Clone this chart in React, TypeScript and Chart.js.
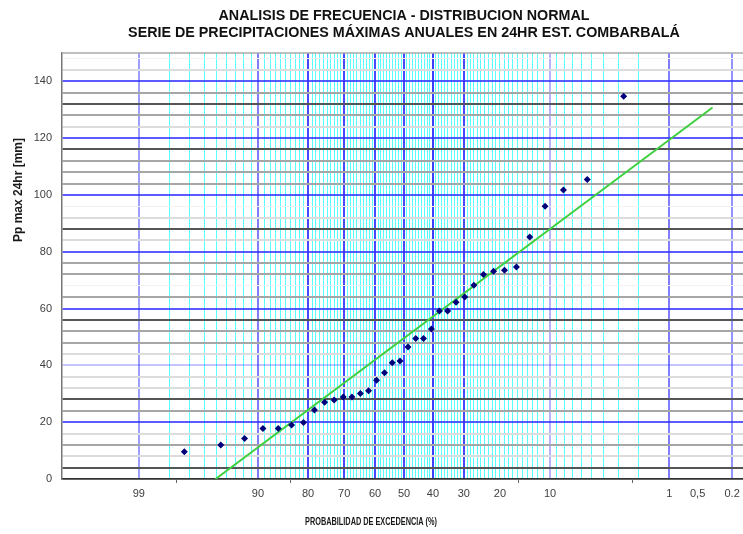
import React, { useEffect, useRef } from 'react';
import { Chart, registerables } from 'chart.js';

Chart.register(...registerables);

// ---------- text ----------
const TITLE_LINES = [
  'ANALISIS DE FRECUENCIA - DISTRIBUCION NORMAL',
  'SERIE DE PRECIPITACIONES MÁXIMAS ANUALES EN 24HR EST. COMBARBALÁ',
];
const Y_TITLE = 'Pp max 24hr [mm]';
const X_TITLE = 'PROBABILIDAD DE EXCEDENCIA (%)';

// ---------- data ----------
// Probabilidad de excedencia (%) de cada dato (posición de graficación)
const EXCEEDANCE_PCT = [
  97.3, 94.6, 91.9, 89.2, 86.5, 83.8, 81.1, 78.4, 75.7, 73.0, 70.3, 67.6,
  64.9, 62.2, 59.5, 56.8, 54.1, 51.4, 48.6, 45.9, 43.2, 40.5, 37.8, 35.1,
  32.4, 29.7, 27.0, 24.3, 21.6, 18.9, 16.2, 13.5, 10.8, 8.1, 5.4, 2.7,
];
// Pp máxima anual en 24 hr (mm)
const PRECIP_MM = [
  9.6, 12.0, 14.3, 17.8, 17.8, 19.0, 19.9, 24.3, 27.0, 27.8, 28.9, 28.9,
  30.1, 31.1, 34.8, 37.4, 40.9, 41.5, 46.5, 49.5, 49.5, 52.8, 59.1, 59.1,
  62.2, 64.1, 68.2, 72.0, 73.1, 73.5, 74.6, 85.2, 96.0, 101.7, 105.4, 134.7,
];
// Recta de ajuste normal (extremos)
const FIT_PCT = [95.08, 0.34];
const FIT_MM = [0, 130.8];

// ---------- axes ----------
const X_LABEL_PCT = [99, 90, 80, 70, 60, 50, 40, 30, 20, 10, 1, 0.5, 0.2];
const X_LABEL_TEXT = ['99', '90', '80', '70', '60', '50', '40', '30', '20', '10', '1', '0,5', '0.2'];
const X_BLUE_PCT = [99, 90, 80, 70, 60, 50, 40, 30, 10, 1, 0.2];
const X_BLUE_ALPHA = [0.45, 0.6, 0.85, 0.85, 0.85, 0.85, 0.9, 0.85, 0.35, 0.6, 0.5];
const X_CYAN_FROM = 2;
const X_CYAN_TO = 98;
const X_Z_MIN = -3;
const X_Z_MAX = 3;
const X_Z_TICKMARKS = [-2, -1, 1, 2];

const Y_MIN = 0;
const Y_MAX = 150;
const Y_MINOR_STEP = 4;
const Y_LABEL_STEP = 20;
const Y_LIGHT_BLUE = [40];
const Y_DARK = [4, 28, 56, 88, 116, 132];
const Y_LIGHT = [8, 16, 32, 36, 44, 84, 92, 124, 144];
const Y_FAINT = [68, 96, 148];

// inverse normal CDF (Acklam)
function normInv(p: number): number {
  const a = [-39.69683028665376, 220.9460984245205, -275.9285104469687, 138.357751867269, -30.66479806614716, 2.506628277459239];
  const b = [-54.47609879822406, 161.5858368580409, -155.6989798598866, 66.80131188771972, -13.28068155288572];
  const c = [-0.007784894002430293, -0.3223964580411365, -2.400758277161838, -2.549732539343734, 4.374664141464968, 2.938163982698783];
  const d = [0.007784695709041462, 0.3224671290700398, 2.445134137142996, 3.754408661907416];
  const plow = 0.02425;
  const phigh = 1 - plow;
  let q: number, r: number;
  if (p < plow) {
    q = Math.sqrt(-2 * Math.log(p));
    return (((((c[0] * q + c[1]) * q + c[2]) * q + c[3]) * q + c[4]) * q + c[5]) /
      ((((d[0] * q + d[1]) * q + d[2]) * q + d[3]) * q + 1);
  }
  if (p <= phigh) {
    q = p - 0.5;
    r = q * q;
    return (((((a[0] * r + a[1]) * r + a[2]) * r + a[3]) * r + a[4]) * r + a[5]) * q /
      (((((b[0] * r + b[1]) * r + b[2]) * r + b[3]) * r + b[4]) * r + 1);
  }
  q = Math.sqrt(-2 * Math.log(1 - p));
  return -(((((c[0] * q + c[1]) * q + c[2]) * q + c[3]) * q + c[4]) * q + c[5]) /
    ((((d[0] * q + d[1]) * q + d[2]) * q + d[3]) * q + 1);
}
const zOf = (pctExceed: number) => normInv(1 - pctExceed / 100);

type XTick = { value: number; color: string; width: number; lbl: string };

function buildXTicks(): XTick[] {
  const map = new Map<number, XTick>();
  for (let p = X_CYAN_FROM; p <= X_CYAN_TO; p++) {
    map.set(p, { value: zOf(p), color: 'rgba(60,255,255,0.85)', width: 1, lbl: '' });
  }
  X_BLUE_PCT.forEach((p, i) => {
    map.set(p, { value: zOf(p), color: `rgba(40,40,255,${X_BLUE_ALPHA[i]})`, width: 2, lbl: '' });
  });
  X_LABEL_PCT.forEach((p, i) => {
    const t = map.get(p) || { value: zOf(p), color: 'rgba(0,0,0,0)', width: 1, lbl: '' };
    t.lbl = X_LABEL_TEXT[i];
    map.set(p, t);
  });
  return Array.from(map.values()).sort((u, v) => u.value - v.value);
}

function yStyle(v: number): { color: string; width: number } {
  if (v === 0) return { color: '#333', width: 1.5 };
  if (v % Y_LABEL_STEP === 0) {
    if (Y_LIGHT_BLUE.includes(v)) return { color: 'rgba(60,60,255,0.3)', width: 2 };
    return { color: 'rgba(50,50,255,0.8)', width: 2 };
  }
  if (Y_DARK.includes(v)) return { color: '#555', width: 2 };
  if (Y_LIGHT.includes(v)) return { color: '#dcdcdc', width: 2 };
  if (Y_FAINT.includes(v)) return { color: '#f2f2f2', width: 1 };
  return { color: '#a6a6a6', width: 2 };
}

const FONT = "'Liberation Sans', Arial, sans-serif";

const decorPlugin = {
  id: 'decor',
  afterDraw(chart: any) {
    const { ctx, chartArea, scales } = chart;
    ctx.save();
    // top border
    ctx.strokeStyle = '#aaa';
    ctx.lineWidth = 1.5;
    ctx.beginPath();
    ctx.moveTo(chartArea.left, chartArea.top);
    ctx.lineTo(chartArea.right, chartArea.top);
    ctx.stroke();
    // small tick marks of the base linear axis
    ctx.strokeStyle = '#666';
    ctx.lineWidth = 1;
    X_Z_TICKMARKS.forEach((z) => {
      const x = Math.round(scales.x.getPixelForValue(z)) + 0.5;
      ctx.beginPath();
      ctx.moveTo(x, chartArea.bottom);
      ctx.lineTo(x, chartArea.bottom + 4);
      ctx.stroke();
    });
    // axis titles
    ctx.fillStyle = '#1a1a1a';
    ctx.textAlign = 'center';
    ctx.textBaseline = 'middle';
    ctx.font = `bold 10px ${FONT}`;
    ctx.fillText(X_TITLE, 371, 522, 132);
    ctx.translate(19, 190);
    ctx.rotate(-Math.PI / 2);
    ctx.font = `bold 12px ${FONT}`;
    ctx.fillText(Y_TITLE, 0, 0);
    ctx.restore();
  },
};

export default function App() {
  const ref = useRef<HTMLCanvasElement>(null);

  useEffect(() => {
    if (!ref.current) return;
    const xTicks = buildXTicks();
    const points = EXCEEDANCE_PCT.map((p, i) => ({ x: zOf(p), y: PRECIP_MM[i] }));
    const fit = FIT_PCT.map((p, i) => ({ x: zOf(p), y: FIT_MM[i] }));

    const chart = new Chart(ref.current, {
      type: 'scatter',
      data: {
        datasets: [
          {
            label: 'Pp max',
            data: points,
            pointStyle: 'rectRot',
            pointRadius: 3.5,
            backgroundColor: '#00007a',
            borderColor: '#00007a',
            borderWidth: 0,
            showLine: false,
          },
          {
            label: 'Ajuste normal',
            data: fit,
            showLine: true,
            pointRadius: 0,
            borderColor: '#3fcf3f',
            borderWidth: 2,
          },
        ],
      },
      options: {
        animation: false,
        responsive: false,
        devicePixelRatio: 1,
        layout: { padding: { left: 0, right: 14, top: 0, bottom: 0 } },
        plugins: {
          legend: { display: false },
          tooltip: { enabled: false },
          title: {
            display: true,
            text: TITLE_LINES,
            fullSize: false,
            color: '#111',
            font: { family: FONT, size: 14.3, weight: 'bold', lineHeight: 1.15 },
            padding: { top: 8, bottom: 12 },
          },
        },
        scales: {
          x: {
            type: 'linear',
            min: X_Z_MIN,
            max: X_Z_MAX,
            afterBuildTicks: (scale: any) => {
              scale.ticks = xTicks.map((t) => ({ ...t }));
            },
            afterFit: (scale: any) => {
              scale.height = 55;
            },
            ticks: {
              autoSkip: false,
              maxRotation: 0,
              minRotation: 0,
              padding: 8,
              color: '#404040',
              font: { family: FONT, size: 11 },
              callback: (_v: any, i: number, ticks: any[]) => ticks[i].lbl ?? '',
            },
            grid: {
              drawTicks: false,
              color: (c: any) => (c.tick && c.tick.color) || 'rgba(0,0,0,0)',
              lineWidth: (c: any) => (c.tick && c.tick.width) || 1,
            },
            border: { display: true, color: '#333', width: 1.5 },
          },
          y: {
            type: 'linear',
            min: Y_MIN,
            max: Y_MAX,
            afterBuildTicks: (scale: any) => {
              const t: any[] = [];
              for (let v = Y_MIN; v < Y_MAX; v += Y_MINOR_STEP) t.push({ value: v });
              scale.ticks = t;
            },
            afterFit: (scale: any) => {
              scale.width = 62;
            },
            ticks: {
              autoSkip: false,
              padding: 10,
              color: '#404040',
              font: { family: FONT, size: 11 },
              callback: (v: any) => (v % Y_LABEL_STEP === 0 ? String(v) : ''),
            },
            grid: {
              drawTicks: false,
              color: (c: any) => yStyle(c.tick ? c.tick.value : -1).color,
              lineWidth: (c: any) => yStyle(c.tick ? c.tick.value : -1).width,
            },
            border: { display: true, color: '#777', width: 1.5 },
          },
        },
      },
      plugins: [decorPlugin],
    } as any);

    return () => chart.destroy();
  }, []);

  return (
    <div
      style={{
        position: 'fixed',
        left: 0,
        top: 0,
        width: 743,
        height: 534,
        overflow: 'hidden',
        background: '#fff',
      }}
    >
      <canvas ref={ref} width={760} height={534} style={{ width: 760, height: 534, display: 'block' }} />
    </div>
  );
}
